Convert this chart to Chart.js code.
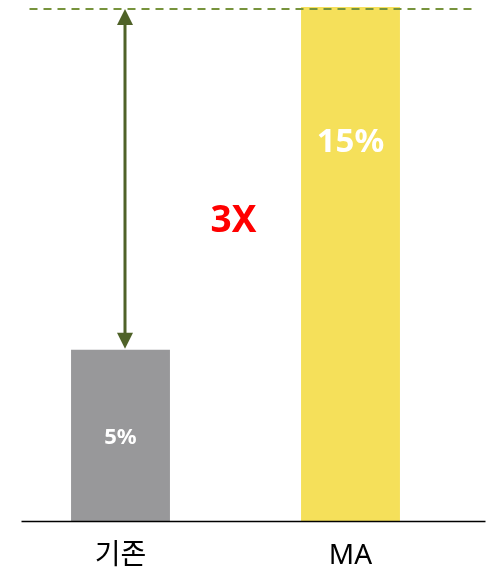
<!DOCTYPE html>
<html>
<head>
<meta charset="utf-8">
<script src="https://cdn.jsdelivr.net/npm/chart.js@4/dist/chart.umd.min.js"></script>
<style>
  html, body { margin: 0; padding: 0; background: #fff; }
  #wrap { width: 492px; height: 570px; position: relative; }
</style>
</head>
<body>
<div id="wrap"><canvas id="maChart"></canvas></div>
<script>
// Data
const categories = ['기존', 'MA'];
const values = [5, 15];
const valueLabels = ['5%', '15%'];
const barColors = ['#98989a', '#f5e05a'];
const multipleText = '3X';

const FONT = "'Noto Sans', 'Noto Sans CJK KR', sans-serif";

// Decorations: dashed target line, double arrow, labels
const overlayPlugin = {
    id: 'overlay',
    afterDatasetsDraw(chart) {
        const { ctx, chartArea, scales } = chart;
        const y = scales.y;
        const meta = chart.getDatasetMeta(0);
        const b0 = meta.data[0], b1 = meta.data[1];
        const yTop = y.getPixelForValue(values[1]) + 2;
        const yLow = y.getPixelForValue(values[0]) - 1;
        const yZero = y.getPixelForValue(0);

        ctx.save();
        // baseline
        ctx.strokeStyle = '#000';
        ctx.lineWidth = 1.5;
        ctx.beginPath();
        ctx.moveTo(chartArea.left + 16, yZero + 0.5);
        ctx.lineTo(chartArea.right + 20, yZero + 0.5);
        ctx.stroke();

        // dashed line at MA level
        ctx.strokeStyle = '#77933c';
        ctx.lineWidth = 2;
        ctx.setLineDash([8, 6]);
        ctx.beginPath();
        ctx.moveTo(chartArea.left + 24, yTop);
        ctx.lineTo(chartArea.right + 8, yTop);
        ctx.stroke();
        ctx.setLineDash([]);

        // double arrow
        const ax = b0.x + 4.5;
        const head = 16, half = 8;
        ctx.strokeStyle = '#4f6228';
        ctx.fillStyle = '#4f6228';
        ctx.lineWidth = 3;
        ctx.beginPath();
        ctx.moveTo(ax, yTop + head - 2);
        ctx.lineTo(ax, yLow - head + 2);
        ctx.stroke();
        ctx.beginPath();
        ctx.moveTo(ax, yTop);
        ctx.lineTo(ax - half, yTop + head);
        ctx.lineTo(ax + half, yTop + head);
        ctx.closePath();
        ctx.fill();
        ctx.beginPath();
        ctx.moveTo(ax, yLow);
        ctx.lineTo(ax - half, yLow - head);
        ctx.lineTo(ax + half, yLow - head);
        ctx.closePath();
        ctx.fill();

        // value labels
        ctx.fillStyle = '#fff';
        ctx.textAlign = 'center';
        ctx.textBaseline = 'middle';
        ctx.font = 'bold 22px ' + FONT;
        ctx.fillText(valueLabels[0], b0.x, (b0.y + b0.base) / 2 + 2);
        ctx.font = 'bold 33px ' + FONT;
        ctx.fillText(valueLabels[1], b1.x, b1.y + 136);

        // multiple
        ctx.fillStyle = '#ff0000';
        ctx.font = 'bold 37px ' + FONT;
        ctx.fillText(multipleText, (b0.x + b1.x) / 2 - 2, y.getPixelForValue(8.75));
        ctx.restore();
    }
};

new Chart(document.getElementById('maChart'), {
    type: 'bar',
    data: {
        labels: categories,
        datasets: [{
            data: values,
            backgroundColor: barColors,
            borderWidth: 0,
            barPercentage: 0.43,
            categoryPercentage: 1
        }]
    },
    options: {
        responsive: true,
        maintainAspectRatio: false,
        animation: false,
        layout: { padding: { left: 5.5, right: 26.5, top: 7, bottom: 0 } },
        plugins: {
            legend: { display: false },
            tooltip: { enabled: false }
        },
        scales: {
            x: {
                grid: { display: false },
                border: { display: false },
                ticks: { color: '#000', font: { size: 28, family: FONT }, padding: 10 },
                afterFit(scale) { scale.height = 49; }
            },
            y: { display: false, min: 0, max: 15 }
        }
    },
    plugins: [overlayPlugin]
});
</script>
</body>
</html>
